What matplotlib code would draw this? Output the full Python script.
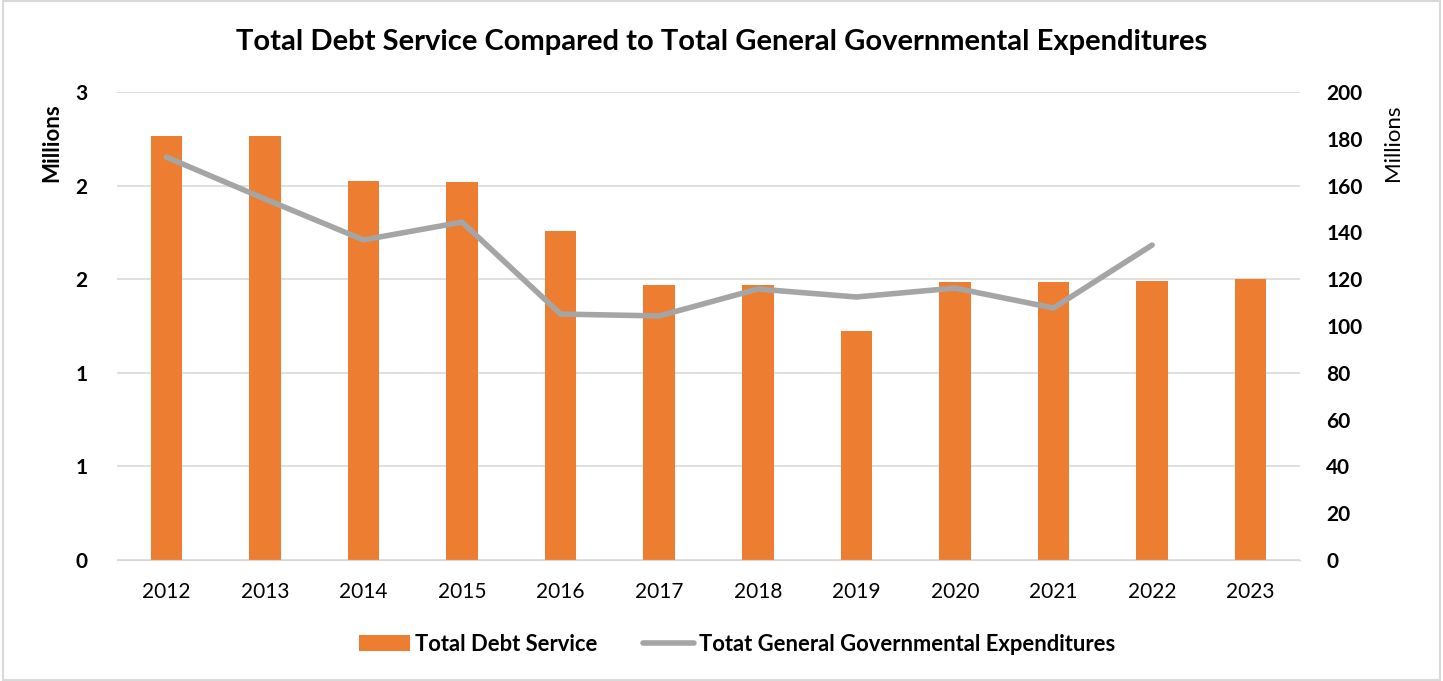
import numpy as np
import matplotlib.pyplot as plt

plt.rcParams['font.family'] = ['Lato', 'DejaVu Sans']

years = ['2012', '2013', '2014', '2015', '2016', '2017',
         '2018', '2019', '2020', '2021', '2022', '2023']
debt_service = [2.72, 2.72, 2.43, 2.42, 2.11, 1.76,
                1.76, 1.47, 1.78, 1.78, 1.79, 1.80]
gov_exp = [172.2, 154.3, 136.8, 144.4, 105.1, 104.3,
           115.8, 112.4, 116.2, 107.7, 134.6, np.nan]
left_ticks = [0, 0.6, 1.2, 1.8, 2.4, 3.0]
left_labels = ['0', '1', '1', '2', '2', '3']
right_ticks = list(range(0, 201, 20))

fig = plt.figure(figsize=(14.43, 6.81), dpi=100)
ax = fig.add_axes([117 / 1443, 121 / 681, 1183 / 1443, 468 / 681])
ax2 = ax.twinx()

x = np.arange(len(years))
bars = ax.bar(x, debt_service, width=0.32, color='#ED7D31', zorder=2,
              label='Total Debt Service')
line, = ax2.plot(x, gov_exp, color='#A5A5A5', lw=4, solid_capstyle='round',
                 zorder=3, label='Totat General Governmental Expenditures')

ax.set_xlim(-0.5, len(years) - 0.5)
ax.set_ylim(0, 3)
ax2.set_ylim(0, 200)
ax.set_xticks(x)
ax.set_xticklabels(years, fontsize=15)
ax.set_yticks(left_ticks)
ax.set_yticklabels(left_labels, fontsize=15, fontweight='bold')
ax2.set_yticks(right_ticks)
ax2.set_yticklabels([str(v) for v in right_ticks], fontsize=15, fontweight='bold')

ax.yaxis.grid(True, color='#D9D9D9', lw=1.2)
ax.set_axisbelow(True)
for a in (ax, ax2):
    for s in ['top', 'left', 'right']:
        a.spines[s].set_visible(False)
    a.spines['bottom'].set_color('#D9D9D9')
    a.tick_params(length=0)
ax.tick_params(axis='x', pad=16)
ax.tick_params(axis='y', pad=21)
ax2.tick_params(axis='y', pad=19)

ax.set_ylabel('Millions', fontsize=16, fontweight='bold')
ax.yaxis.set_label_coords(-0.0465, 0.891)
ax2.set_ylabel('Millions', fontsize=16)
ax2.yaxis.set_label_coords(1.070, 0.891)

fig.text(0.5, 0.938,
         'Total Debt Service Compared to Total General Governmental Expenditures',
         fontsize=21, fontweight='bold', ha='center', va='center')

leg = fig.legend(handles=[bars, line], loc='center', bbox_to_anchor=(0.511, 0.054),
                 ncol=2, frameon=False, prop={'size': 15.8, 'weight': 'bold'},
                 handlelength=2.3, columnspacing=2.1, handletextpad=0.25)

border = plt.Rectangle((0.002, 0.002), 0.996, 0.996, transform=fig.transFigure,
                       fill=False, edgecolor='#D9D9D9', lw=1.5)
fig.patches.append(border)

fig.savefig('out.png', dpi=100)
